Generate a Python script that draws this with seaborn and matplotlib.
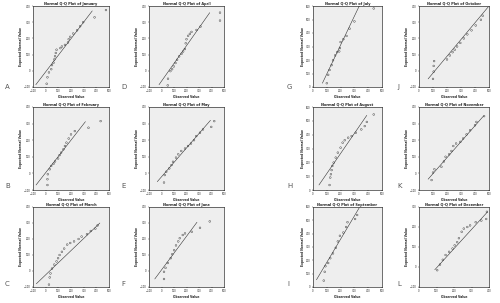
import matplotlib
matplotlib.use("Agg")
import matplotlib.pyplot as plt
import seaborn as sns
import pandas as pd

# observed vs expected normal values
jan_obs = [8, 14, 26, 44, 50, 62, 68, 74, 80, 86, 116, 128, 152, 176, 182, 194, 218, 248, 272, 296, 386, 476]
jan_exp = [-80, -40, -10, 10, 35, 50, 70, 90, 110, 130, 140, 150, 160, 175, 195, 210, 230, 250, 275, 300, 330, 375]
jan_line = [[-78, 368], [-86, 370]]

feb_obs = [14, 14, 17, 32, 44, 62, 74, 98, 110, 122, 140, 152, 164, 182, 200, 230, 338, 434]
feb_exp = [-70, -35, -5, 25, 45, 58, 72, 90, 110, 125, 145, 165, 185, 210, 235, 255, 275, 315]
feb_line = [[-76, 314], [-70, 312]]

mar_obs = [26, 32, 38, 50, 68, 86, 98, 110, 128, 146, 170, 194, 224, 260, 284, 326, 356, 392, 410]
mar_exp = [-85, -40, -15, 15, 40, 60, 80, 100, 120, 140, 165, 175, 185, 200, 215, 230, 250, 265, 285]
mar_line = [[-74, 428], [-80, 300]]

apr_obs = [50, 52, 71, 85, 98, 112, 125, 141, 160, 173, 187, 194, 200, 213, 227, 240, 280, 312, 468, 468]
apr_exp = [-90, -49, -2, 10, 27, 48, 68, 89, 105, 119, 134, 170, 195, 216, 228, 240, 252, 273, 310, 359]
apr_line = [[-20, 386], [-86, 359]]

may_obs = [20, 26, 38, 62, 80, 92, 116, 134, 158, 188, 212, 236, 260, 278, 308, 332, 398, 422]
may_exp = [-55, -10, 10, 30, 50, 70, 95, 115, 135, 150, 165, 180, 200, 225, 245, 265, 280, 315]
may_line = [[-34, 392], [-50, 320]]

jun_obs = [20, 20, 32, 50, 74, 86, 101, 116, 134, 146, 170, 188, 242, 308, 386]
jun_exp = [-50, -5, 20, 50, 80, 105, 130, 160, 185, 205, 225, 235, 245, 270, 310]
jun_line = [[-54, 284], [-50, 305]]

jul_obs = [100, 110, 120, 135, 145, 160, 175, 190, 195, 200, 220, 243, 265, 300, 440]
jul_exp = [28, 90, 126, 162, 198, 234, 258, 264, 288, 333, 354, 378, 432, 486, 582]
jul_line = [[68, 335], [28, 600]]

aug_obs = [120, 125, 130, 135, 140, 150, 165, 180, 200, 215, 230, 255, 280, 310, 350, 375, 390, 440]
aug_exp = [36, 90, 114, 144, 174, 198, 234, 270, 306, 342, 360, 378, 390, 414, 438, 462, 492, 546]
aug_line = [[43, 390], [36, 540]]

sep_obs = [78, 85, 90, 110, 125, 145, 165, 180, 195, 220, 240, 250, 305, 320]
sep_exp = [48, 114, 156, 180, 216, 252, 294, 342, 384, 408, 450, 486, 510, 540]
sep_line = [[25, 335], [54, 594]]

oct_obs = [100, 105, 105, 108, 200, 220, 240, 255, 272, 295, 320, 345, 375, 405, 442, 455]
oct_exp = [-50, -5, 30, 60, 70, 95, 115, 130, 150, 172, 200, 225, 250, 280, 315, 340]
oct_line = [[65, 495], [-50, 395]]

nov_obs = [90, 100, 110, 160, 178, 190, 215, 232, 245, 265, 295, 315, 340, 365, 400, 410, 465]
nov_exp = [-40, 5, 25, 40, 72, 100, 115, 135, 165, 180, 190, 210, 235, 260, 290, 310, 345]
nov_line = [[65, 460], [-35, 345]]

dec_obs = [104, 120, 136, 152, 172, 192, 204, 218, 228, 244, 256, 276, 292, 324, 356, 384, 388]
dec_exp = [-16, 12, 36, 60, 76, 92, 108, 124, 144, 176, 192, 200, 208, 224, 232, 240, 276]
dec_line = [[90, 392], [-14, 276]]

months = ["January", "February", "March", "April", "May", "June",
          "July", "August", "September", "October", "November", "December"]
letters = ["A", "B", "C", "D", "E", "F", "G", "H", "I", "J", "K", "L"]
ticks_a = (list(range(-100, 501, 100)), list(range(-100, 401, 100)))
ticks_g = (list(range(0, 501, 100)), list(range(0, 601, 100)))
ticks_j = (list(range(0, 501, 100)), list(range(-100, 401, 100)))
ticks_l = (list(range(0, 401, 100)), list(range(-100, 301, 100)))

panels = [
    (jan_obs, jan_exp, jan_line, ticks_a), (feb_obs, feb_exp, feb_line, ticks_a),
    (mar_obs, mar_exp, mar_line, ticks_a), (apr_obs, apr_exp, apr_line, ticks_a),
    (may_obs, may_exp, may_line, ticks_a), (jun_obs, jun_exp, jun_line, ticks_a),
    (jul_obs, jul_exp, jul_line, ticks_g), (aug_obs, aug_exp, aug_line, ticks_g),
    (sep_obs, sep_exp, sep_line, ticks_g), (oct_obs, oct_exp, oct_line, ticks_j),
    (nov_obs, nov_exp, nov_line, ticks_j), (dec_obs, dec_exp, dec_line, ticks_l),
]

sns.set_style("ticks", {"axes.facecolor": "#eeeeee", "axes.edgecolor": "black"})
plt.rcParams["font.family"] = ["DejaVu Sans"]

W, H = 500, 303
fig = plt.figure(figsize=(5, 3.03), dpi=100)

col_left = [33, 149, 313, 419]
col_width = [76, 75, 69, 70]
row_top = [6, 107, 207]
row_height = [81, 83, 80]
letter_x = [5, 121, 287, 397]
letter_y = [87, 186, 284]

for i, (obs, exp, line, ticks) in enumerate(panels):
    c, r = i // 3, i % 3
    ax = fig.add_axes([col_left[c] / W, 1 - (row_top[r] + row_height[r]) / H,
                       col_width[c] / W, row_height[r] / H])
    df = pd.DataFrame({"obs": obs, "exp": exp})
    sns.lineplot(x=line[0], y=line[1], ax=ax, color="#333333", linewidth=0.4)
    sns.scatterplot(data=df, x="obs", y="exp", ax=ax, marker="o", s=1.6,
                    facecolor="none", edgecolor="#333333", linewidth=0.3)
    xt, yt = ticks
    ax.set_xlim(xt[0], xt[-1])
    ax.set_ylim(yt[0], yt[-1])
    ax.set_xticks(xt)
    ax.set_yticks(yt)
    ax.tick_params(labelsize=1.8, length=1, width=0.3, pad=0.6)
    for s in ax.spines.values():
        s.set_linewidth(0.4)
    ax.set_title(f"Normal Q-Q Plot of {months[i]}", fontsize=2.5, fontweight="bold", pad=1)
    ax.set_xlabel("Observed Value", fontsize=2.2, fontweight="bold", labelpad=1)
    ax.set_ylabel("Expected Normal Value", fontsize=2.2, fontweight="bold", labelpad=1)
    fig.text(letter_x[c] / W, 1 - letter_y[r] / H, letters[i], fontsize=5,
             color="#555555", ha="left", va="center")

fig.savefig("out.png", dpi=100, facecolor="white")
